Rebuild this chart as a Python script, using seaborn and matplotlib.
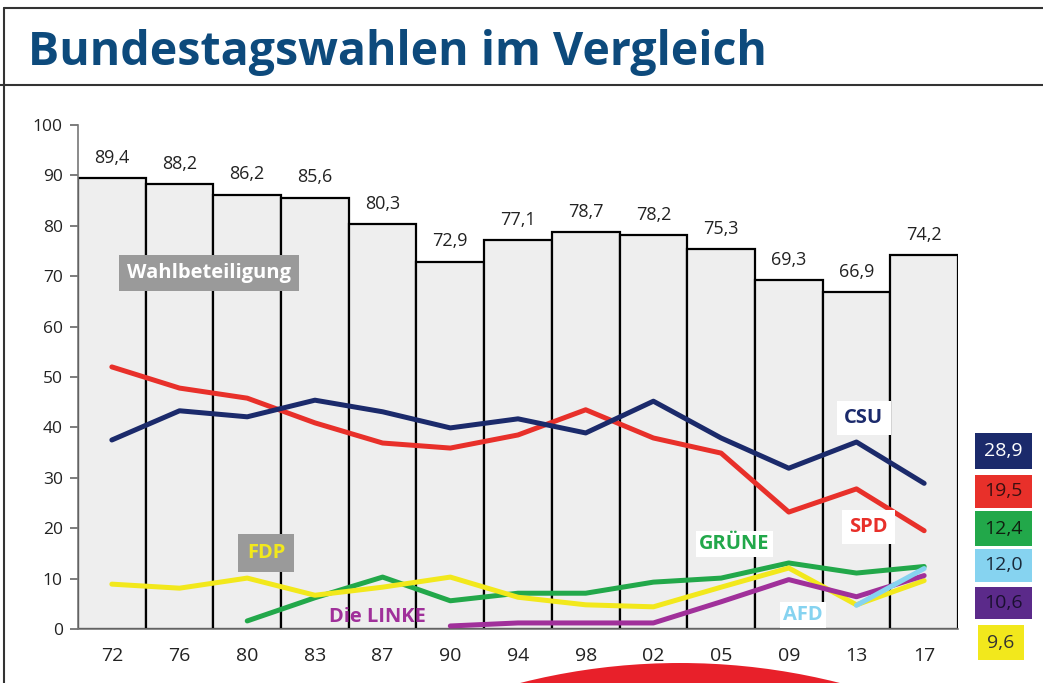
import matplotlib
matplotlib.use("Agg")
import matplotlib.pyplot as plt
from matplotlib.patches import Rectangle, Ellipse
from matplotlib.lines import Line2D
import numpy as np
import pandas as pd
import seaborn as sns

# Daten
jahre = ['72', '76', '80', '83', '87', '90', '94', '98', '02', '05', '09', '13', '17']
wahlbeteiligung = [89.4, 88.2, 86.2, 85.6, 80.3, 72.9, 77.1, 78.7, 78.2, 75.3, 69.3, 66.9, 74.2]
csu = [37.5, 43.3, 42.1, 45.4, 43.1, 39.9, 41.7, 38.9, 45.2, 37.9, 31.9, 37.1, 28.9]
spd = [52.0, 47.8, 45.8, 40.9, 36.9, 35.9, 38.5, 43.5, 37.9, 34.9, 23.2, 27.8, 19.5]
fdp = [8.9, 8.1, 10.1, 6.7, 8.3, 10.3, 6.3, 4.8, 4.4, 8.3, 12.1, 4.8, 9.6]
gruene = [np.nan, np.nan, 1.6, 6.2, 10.3, 5.6, 7.1, 7.1, 9.3, 10.1, 13.1, 11.1, 12.4]
linke = [np.nan] * 5 + [0.6, 1.2, 1.2, 1.2, 5.4, 9.8, 6.4, 10.6]
afd = [np.nan] * 11 + [4.7, 12.0]

legende_werte = ['28,9', '19,5', '12,4', '12,0', '10,6', '9,6']

sns.set_style("white")
plt.rcParams['font.family'] = ['Open Sans', 'DejaVu Sans']

fig = plt.figure(figsize=(10.43, 6.83), dpi=100)
W, H = 1043, 683
ax = fig.add_axes([78 / W, 1 - 629 / H, (958 - 78) / W, (629 - 125) / H])

df = pd.DataFrame({'jahr': jahre, 'wb': wahlbeteiligung})
sns.barplot(data=df, x='jahr', y='wb', color='#eeeeee', width=1.0,
            edgecolor='black', linewidth=1.6, saturation=1, ax=ax, zorder=1)

for i, v in enumerate(wahlbeteiligung):
    ax.annotate(f"{v:.1f}".replace('.', ','), (i, v), xytext=(0, 8),
                textcoords='offset points', ha='center', va='bottom',
                fontsize=13, color='#222222')

idx = np.arange(len(jahre))
linien = [
    (gruene, '#22a84a'),
    (fdp, '#f2e81c'),
    (linke, '#a0309a'),
    (afd, '#86d3f0'),
    (spd, '#e8302a'),
    (csu, '#1b2a6b'),
]
for werte, farbe in linien:
    sns.lineplot(x=idx, y=werte, color=farbe, linewidth=3.6, ax=ax, zorder=3)

# Beschriftungen
lab = dict(ha='center', va='center', fontsize=14.5, fontweight='bold', zorder=5)
ax.text(1.435, 70.6, 'Wahlbeteiligung', color='white',
        bbox=dict(boxstyle='square,pad=0.4', fc='#9a9a9a', ec='none'), **lab)
ax.text(2.28, 15.1, 'FDP', color='#f2e81c',
        bbox=dict(boxstyle='square,pad=0.45', fc='#9a9a9a', ec='none'), **lab)
ax.text(3.93, 2.4, 'Die LINKE', color='#a0309a', **lab)
ax.text(9.2, 16.9, 'GRÜNE', color='#22a84a',
        bbox=dict(boxstyle='square,pad=0.15', fc='white', ec='none'), **lab)
ax.text(10.21, 2.8, 'AFD', color='#86d3f0',
        bbox=dict(boxstyle='square,pad=0.15', fc='white', ec='none'), **lab)
ax.text(11.11, 41.9, 'CSU', color='#1b2a6b',
        bbox=dict(boxstyle='square,pad=0.35', fc='white', ec='none'), **lab)
ax.text(11.18, 20.2, 'SPD', color='#e8302a',
        bbox=dict(boxstyle='square,pad=0.35', fc='white', ec='none'), **lab)

# Achsen
ax.set_xlim(-0.5, len(jahre) - 0.5)
ax.set_ylim(0, 100)
ax.set_yticks(range(0, 101, 10))
ax.set_xlabel('')
ax.set_ylabel('')
ax.set_xticks(idx)
ax.set_xticklabels(jahre)
ax.set_xticks(np.arange(-0.5, len(jahre)), minor=True)
ax.tick_params(axis='x', which='major', length=0, pad=13, labelsize=14, labelcolor='#222222')
ax.tick_params(axis='x', which='minor', length=7, width=1.2, color='#666666', direction='out')
ax.tick_params(axis='y', length=6, width=1.2, color='#666666', labelsize=12.5,
               labelcolor='#222222', left=True, pad=5)
for s in ['top', 'right']:
    ax.spines[s].set_visible(False)
for s in ['left', 'bottom']:
    ax.spines[s].set_color('#777777')
    ax.spines[s].set_linewidth(1.2)

# Rechte Wertekästen
kaesten = [
    (433, 469, '#1b2a6b', 'white'),
    (475, 508, '#e8302a', '#3a1010'),
    (511, 546, '#22a84a', '#102010'),
    (549, 582, '#86d3f0', '#1a2a3a'),
    (587, 619, '#5b2a8a', '#1a1030'),
    (625, 660, '#f2e81c', '#333333'),
]
for (y0, y1, fc, tc), wert in zip(kaesten, legende_werte):
    x0, x1 = (975, 1032) if wert != '9,6' else (978, 1024)
    fig.patches.append(Rectangle((x0 / W, 1 - y1 / H), (x1 - x0) / W, (y1 - y0) / H,
                                 transform=fig.transFigure, fc=fc, ec='none'))
    fig.text((x0 + x1) / 2 / W, 1 - (y0 + y1) / 2 / H, wert, ha='center', va='center',
             fontsize=14, color=tc)

# Titel und Rahmen
fig.text(28 / W, 1 - 52 / H, 'Bundestagswahlen im Vergleich', ha='left', va='center',
         fontsize=33.5, fontweight='bold', color='#0d4a7c')
fig.lines.append(Line2D([4 / W, 1], [1 - 8 / H, 1 - 8 / H], transform=fig.transFigure,
                        color='#333333', linewidth=1.5))
fig.lines.append(Line2D([0, 1], [1 - 85 / H, 1 - 85 / H], transform=fig.transFigure,
                        color='#333333', linewidth=1.5))
fig.lines.append(Line2D([4 / W, 4 / W], [0, 1 - 8 / H], transform=fig.transFigure,
                        color='#333333', linewidth=1.5))

# roter Bogen unten
fig.patches.append(Ellipse((680 / W, 1 - (663 + 650) / H), 1300 / W, 1300 / H,
                           transform=fig.transFigure, fc='#e8202a', ec='none'))

fig.savefig('out.png', dpi=100)
